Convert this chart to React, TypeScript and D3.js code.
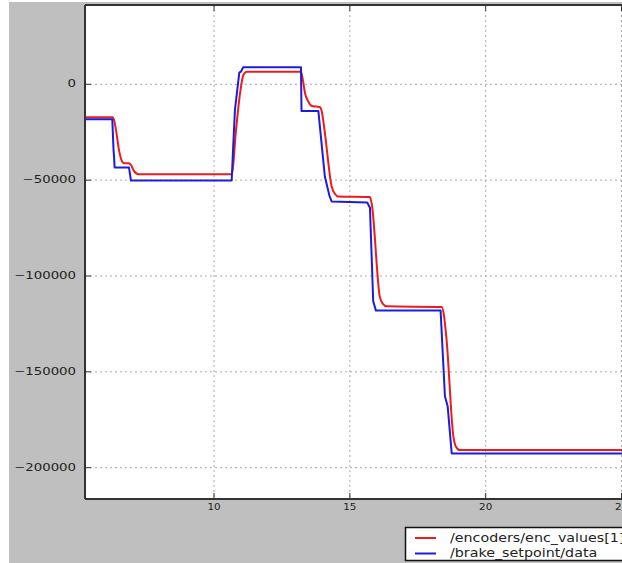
import React from "react";
import * as d3 from "d3";

// Encoder series (red)
const encTime = [5.25, 6.28, 6.39, 6.5, 6.59, 6.69, 6.87, 6.94, 7.05, 7.21, 10.65, 10.81, 10.95, 11.08, 11.2, 13.2, 13.27, 13.35, 13.46, 13.6, 13.9, 13.97, 14.08, 14.33, 14.45, 14.57, 15.74, 15.81, 16.1, 16.21, 16.36, 18.38, 18.46, 18.56, 18.81, 18.9, 19.05, 25.5];
const encValues = [-17190, -17190, -23800, -34220, -39420, -41140, -41140, -42030, -45150, -46870, -46870, -23800, -5570, 4840, 6560, 6560, 2240, -4690, -8700, -11300, -11980, -14430, -25360, -53330, -57130, -58540, -58850, -62860, -110620, -114420, -115830, -116140, -120150, -133170, -183530, -188900, -190830, -190830];

// Brake setpoint series (blue)
const brakeTime = [5.25, 6.255, 6.3, 6.32, 6.34, 6.87, 6.91, 6.94, 10.65, 10.7, 10.77, 10.93, 10.99, 11.07, 13.2, 13.22, 13.84, 14.08, 14.16, 14.25, 14.33, 15.64, 15.74, 15.86, 15.96, 18.34, 18.5, 18.6, 18.75, 25.5];
const brakeValues = [-18230, -18230, -34220, -37860, -43430, -43430, -47240, -50200, -50200, -34220, -13380, 6040, 6560, 8850, 8850, -13900, -13900, -48120, -52970, -58180, -61140, -61660, -64420, -113220, -118060, -118060, -162700, -167900, -192540, -192540];

const xTicks = [10, 15, 20, 25];
const yTicks = [0, -50000, -100000, -150000, -200000];
const seriesNames = ["/encoders/enc_values[1]", "/brake_setpoint/data"];

const W = 622;
const H = 563;
const left = 85;
const top = 5;
const bottom = 499;
const right = 640;

export default function App() {
  const x = d3.scaleLinear().domain([5.25, 25]).range([85, 621.5]);
  const y = d3.scaleLinear().domain([0, -200000]).range([84.3, 467.7]);

  const encData = encTime.map((t, i) => [t, encValues[i]] as [number, number]);
  const brakeData = brakeTime.map((t, i) => [t, brakeValues[i]] as [number, number]);

  const encLine = d3
    .line<[number, number]>()
    .x((d) => x(d[0]))
    .y((d) => y(d[1]))
    .curve(d3.curveMonotoneX);
  const brakeLine = d3
    .line<[number, number]>()
    .x((d) => x(d[0]))
    .y((d) => y(d[1]));

  const fmt = (v: number) => (v < 0 ? "\u2212" + Math.abs(v) : String(v));
  const red = "#ec1c1c";
  const blue = "#1c1ce0";
  const axisColor = "#333";

  return (
    <svg
      width={W}
      height={H}
      style={{ position: "absolute", left: 0, top: 0, display: "block" }}
      fontFamily="DejaVu Sans, sans-serif"
    >
      <rect x={0} y={0} width={W} height={H} fill="#ffffff" />
      <rect x={9} y={2} width={W - 9} height={H - 2} fill="#bfbfbf" />
      <defs>
        <clipPath id="plotClip">
          <rect x={left} y={top} width={right - left} height={bottom - top} />
        </clipPath>
      </defs>
      <rect x={left} y={top} width={right - left} height={bottom - top} fill="#ffffff" />

      {/* grid */}
      <g stroke="#a8a8a8" strokeWidth={1} strokeDasharray="2,3">
        {yTicks.map((v) => (
          <line key={"gy" + v} x1={left} x2={right} y1={y(v)} y2={y(v)} />
        ))}
        {xTicks.map((v) => (
          <line key={"gx" + v} x1={x(v)} x2={x(v)} y1={top} y2={bottom} />
        ))}
      </g>

      {/* data */}
      <g clipPath="url(#plotClip)" fill="none" strokeWidth={2} strokeLinejoin="round">
        <path d={encLine(encData) || ""} stroke={red} />
        <path d={brakeLine(brakeData) || ""} stroke={blue} />
      </g>

      {/* spines */}
      <g stroke={axisColor} strokeWidth={2} fill="none">
        <line x1={left} x2={left} y1={top} y2={bottom} />
        <line x1={left} x2={right} y1={top} y2={top} />
        <line x1={left} x2={right} y1={bottom} y2={bottom} />
      </g>

      {/* ticks */}
      <g stroke={axisColor} strokeWidth={1}>
        {yTicks.map((v) => (
          <line key={"ty" + v} x1={left} x2={left + 6} y1={y(v)} y2={y(v)} />
        ))}
        {xTicks.map((v) => (
          <g key={"tx" + v}>
            <line x1={x(v)} x2={x(v)} y1={bottom} y2={bottom - 6} />
            <line x1={x(v)} x2={x(v)} y1={top} y2={top + 6} />
          </g>
        ))}
      </g>

      {/* tick labels */}
      <g fill="#222" fontSize={10}>
        {yTicks.map((v) => (
          <text
            key={"ly" + v}
            transform={`translate(76,${y(v)}) scale(1.33,1)`}
            textAnchor="end"
            dominantBaseline="middle"
          >
            {fmt(v)}
          </text>
        ))}
      </g>
      <g fill="#222" fontSize={8.5}>
        {xTicks.map((v) => (
          <text
            key={"lx" + v}
            transform={`translate(${x(v)},510) scale(1.22,1)`}
            textAnchor="middle"
          >
            {v}
          </text>
        ))}
      </g>

      {/* legend */}
      <rect x={405.5} y={527.5} width={240} height={33} fill="#ffffff" stroke="#111" strokeWidth={1.5} />
      <line x1={415} x2={436} y1={538} y2={538} stroke={red} strokeWidth={2} />
      <line x1={415} x2={436} y1={553.5} y2={553.5} stroke={blue} strokeWidth={2} />
      <g fill="#222" fontSize={12}>
        <text transform="translate(450,538) scale(1.19,1)" dominantBaseline="middle">
          {seriesNames[0]}
        </text>
        <text transform="translate(450,553) scale(1.19,1)" dominantBaseline="middle">
          {seriesNames[1]}
        </text>
      </g>
    </svg>
  );
}
